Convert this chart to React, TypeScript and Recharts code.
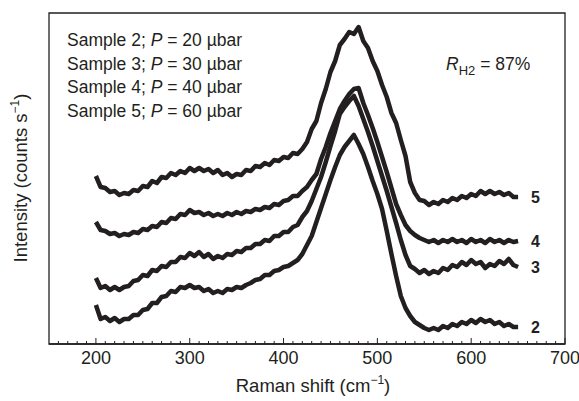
import React from "react";
import {
  LineChart,
  Line,
  XAxis,
  YAxis,
  ReferenceArea,
  ReferenceDot,
} from "recharts";

/* ── Data ────────────────────────────────────────────────── */

const shifts = [
  200, 205, 210, 215, 220, 225, 230, 235, 240, 245,
  250, 255, 260, 265, 270, 275, 280, 285, 290, 295,
  300, 305, 310, 315, 320, 325, 330, 335, 340, 345,
  350, 355, 360, 365, 370, 375, 380, 385, 390, 395,
  400, 405, 410, 415, 420, 425, 430, 435, 440, 445,
  450, 455, 460, 465, 470, 475, 480, 485, 490, 495,
  500, 505, 510, 515, 520, 525, 530, 535, 540, 545,
  550, 555, 560, 565, 570, 575, 580, 585, 590, 595,
  600, 605, 610, 615, 620, 625, 630, 635, 640, 645,
  650,
];

const sample5 = [
  168, 157, 156, 152, 153, 149, 151, 150, 154, 153,
  158, 157, 163, 161, 167, 166, 171, 169, 173, 171,
  176, 173, 176, 173, 175, 171, 174, 169, 171, 167,
  170, 169, 174, 173, 178, 177, 181, 179, 184, 183,
  187, 186, 191, 190, 195, 202, 215, 223, 241, 255,
  272, 283, 299, 305, 312, 310, 317, 303, 296, 283,
  273, 259, 247, 231, 221, 204, 188, 162, 151, 144,
  143, 139, 142, 140, 144, 142, 146, 144, 148, 146,
  150, 148, 153, 150, 153, 150, 152, 149, 151, 147,
  147,
];

const sample4 = [
  122, 114, 113, 110, 111, 108, 110, 109, 112, 111,
  115, 114, 118, 117, 122, 121, 126, 125, 130, 129,
  134, 131, 132, 129, 131, 128, 130, 128, 131, 129,
  132, 130, 133, 132, 135, 134, 137, 136, 140, 139,
  143, 144, 148, 148, 153, 157, 164, 170, 185, 197,
  211, 223, 235, 243, 250, 255, 256, 241, 229, 216,
  202, 187, 172, 156, 140, 129, 119, 113, 109, 106,
  104, 102, 104, 101, 104, 102, 105, 102, 104, 101,
  105, 102, 104, 101, 105, 102, 104, 101, 104, 102,
  103,
];

const sample3 = [
  66, 56, 58, 54, 57, 54, 57, 58, 63, 64,
  69, 68, 74, 73, 78, 77, 82, 82, 87, 86,
  91, 88, 92, 87, 90, 85, 88, 86, 90, 89,
  93, 92, 96, 96, 100, 100, 104, 103, 108, 108,
  112, 112, 117, 119, 127, 133, 143, 155, 167, 182,
  198, 213, 230, 237, 243, 248, 238, 225, 212, 198,
  183, 168, 153, 137, 121, 104, 89, 78, 75, 71,
  74, 70, 73, 71, 76, 74, 79, 77, 82, 79,
  84, 80, 82, 76, 80, 78, 83, 80, 85, 79,
  77,
];

const sample2 = [
  39, 25, 27, 23, 26, 22, 25, 25, 29, 29,
  34, 35, 41, 41, 47, 48, 53, 52, 57, 56,
  59, 56, 57, 53, 55, 51, 53, 51, 55, 54,
  57, 56, 59, 61, 64, 65, 69, 69, 73, 74,
  77, 78, 81, 84, 90, 99, 108, 122, 136, 150,
  164, 177, 189, 197, 203, 209, 200, 190, 177, 163,
  150, 135, 113, 90, 68, 48, 36, 28, 22, 19,
  16, 14, 16, 14, 18, 16, 20, 18, 22, 20,
  24, 21, 25, 22, 24, 20, 22, 18, 20, 17,
  17,
];

const xTicks = [
  160, 170, 180, 190, 200, 210, 220, 230, 240, 250,
  260, 270, 280, 290, 300, 310, 320, 330, 340, 350,
  360, 370, 380, 390, 400, 410, 420, 430, 440, 450,
  460, 470, 480, 490, 500, 510, 520, 530, 540, 550,
  560, 570, 580, 590, 600, 610, 620, 630, 640, 650,
  660, 670, 680, 690, 700,
];
const majorTicks = [200, 300, 400, 500, 600, 700];

const legendLines = [
  { sample: "Sample 2", pressure: "20" },
  { sample: "Sample 3", pressure: "30" },
  { sample: "Sample 4", pressure: "40" },
  { sample: "Sample 5", pressure: "60" },
];

const series = [
  { key: "s5", label: "5", values: sample5 },
  { key: "s4", label: "4", values: sample4 },
  { key: "s3", label: "3", values: sample3 },
  { key: "s2", label: "2", values: sample2 },
];

const chartData = shifts.map((x, i) => ({
  x,
  s5: sample5[i],
  s4: sample4[i],
  s3: sample3[i],
  s2: sample2[i],
}));

const FONT = "'Liberation Sans', Arial, Helvetica, sans-serif";
const INK = "#231f20";

/* ── Axis tick (inward ticks, labels on majors) ──────────── */

function RamanTick({ x, y, payload }: any) {
  const major = majorTicks.includes(payload.value);
  return (
    <g>
      <line
        x1={x}
        x2={x}
        y1={y}
        y2={y - (major ? 6 : 3)}
        stroke={INK}
        strokeWidth={1}
      />
      {major && (
        <text
          x={x}
          y={y + 20}
          textAnchor="middle"
          fontFamily={FONT}
          fontSize={18}
          fill={INK}
        >
          {payload.value}
        </text>
      )}
    </g>
  );
}

export default function App() {
  const last = shifts.length - 1;
  return (
    <div
      style={{
        position: "absolute",
        left: 0,
        top: 0,
        width: 579,
        height: 401,
        background: "#fff",
      }}
    >
      <LineChart
        width={579}
        height={401}
        data={chartData}
        margin={{ top: 13, right: 14, left: 0, bottom: 0 }}
      >
        <XAxis
          dataKey="x"
          type="number"
          domain={[150, 700]}
          ticks={xTicks}
          interval={0}
          tickSize={0}
          tickMargin={0}
          tick={<RamanTick />}
          tickLine={false}
          axisLine={{ stroke: INK, strokeWidth: 1.3 }}
          height={57}
        />
        <YAxis
          type="number"
          domain={[0, 331]}
          width={49}
          tick={false}
          tickLine={false}
          axisLine={false}
        />
        <ReferenceArea
          x1={150}
          x2={700}
          y1={0}
          y2={331}
          fill="none"
          fillOpacity={0}
          stroke={INK}
          strokeWidth={1.3}
        />
        {series.map((s) => (
          <Line
            key={s.key}
            dataKey={s.key}
            type="linear"
            stroke={INK}
            strokeWidth={4.5}
            strokeLinejoin="round"
            dot={false}
            isAnimationActive={false}
          />
        ))}
        {series.map((s) => (
          <ReferenceDot
            key={"lbl" + s.key}
            x={shifts[last]}
            y={s.values[last]}
            r={1}
            fill="none"
            stroke="none"
            label={{
              value: s.label,
              position: "right",
              offset: 12,
              fontFamily: FONT,
              fontSize: 16,
              fontWeight: "bold",
              fill: INK,
            }}
          />
        ))}
      </LineChart>

      <svg
        width={579}
        height={401}
        style={{ position: "absolute", left: 0, top: 0, pointerEvents: "none" }}
        fontFamily={FONT}
        fill={INK}
      >
        {legendLines.map((l, i) => (
          <text key={l.sample} x={67} y={46 + i * 23.7} fontSize={17.5}>
            {l.sample}; <tspan fontStyle="italic">P</tspan> = {l.pressure} µbar
          </text>
        ))}

        <text x={446} y={70} fontSize={17.5}>
          <tspan fontStyle="italic">R</tspan>
          <tspan fontSize={13} dy={5}>H2</tspan>
          <tspan dy={-5}> = 87%</tspan>
        </text>

        <text x={313} y={392} fontSize={18.5} textAnchor="middle">
          Raman shift (cm
          <tspan fontSize={12} dy={-8}>−1</tspan>
          <tspan dy={8}>)</tspan>
        </text>

        <text
          x={0}
          y={0}
          fontSize={18.5}
          textAnchor="middle"
          transform="translate(27,178) rotate(-90)"
        >
          Intensity (counts s
          <tspan fontSize={12} dy={-8}>−1</tspan>
          <tspan dy={8}>)</tspan>
        </text>
      </svg>
    </div>
  );
}
